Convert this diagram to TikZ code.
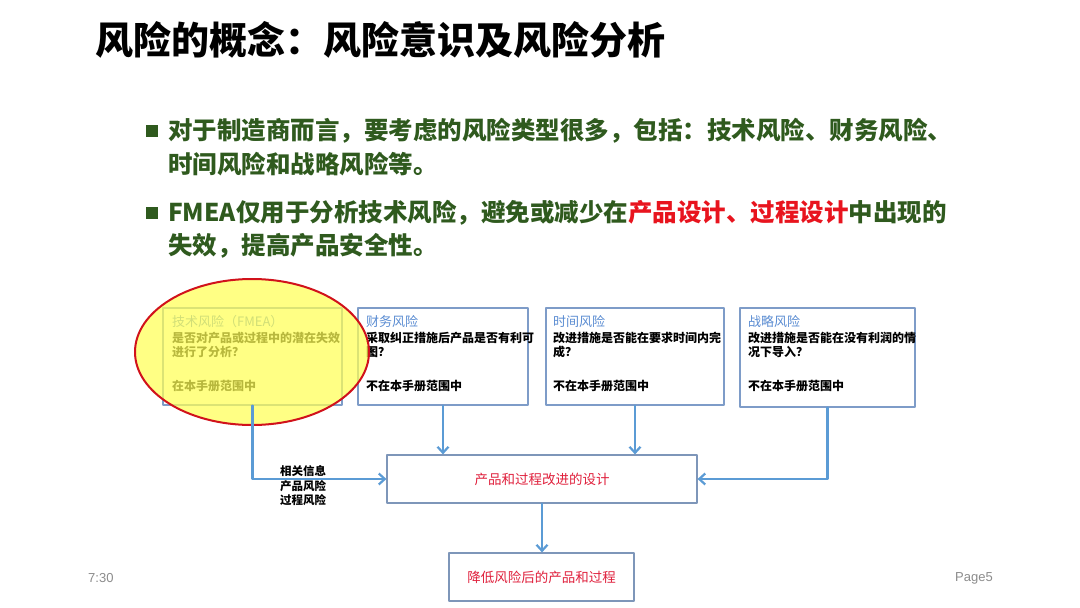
\documentclass[tikz,border=0pt]{standalone}
\usepackage{fontspec}
\setmainfont{Liberation Sans}
\newfontfamily\cjk{Noto Sans CJK SC}
\usetikzlibrary{arrows.meta,calc,positioning}
\definecolor{riskGreen}{HTML}{2F5A1E}
\definecolor{riskBlue}{HTML}{5B9BD5}
\definecolor{riskFrame}{HTML}{7E9CC8}
\definecolor{riskTitle}{HTML}{5A8CD2}
\definecolor{riskRed}{HTML}{E0203C}
\definecolor{riskHot}{HTML}{E8141E}
\definecolor{riskGray}{HTML}{8C8C8C}
\definecolor{riskYellow}{HTML}{FFFF55}

\begin{document}
\begin{tikzpicture}[x=1pt,y=-1pt,>=Latex,line cap=round,line join=round]
\path[fill=white] (0,0) rectangle (1080,608);
\tikzset{riskbox/.style={draw=riskFrame,line width=1.2pt},flowbox/.style={draw=riskFrame!80!gray,line width=1.2pt},flow/.style={draw=riskBlue,line width=2.2pt,-{Straight Barb[length=6pt,width=11pt]}},boxhead/.style={anchor=west,text=riskTitle,font=\cjk\fontsize{13}{15}\selectfont,inner sep=0pt},boxtext/.style={anchor=west,text=black,font=\cjk\bfseries\fontsize{12}{14}\selectfont,inner sep=0pt},bullet/.style={anchor=west,text=riskGreen,font=\cjk\bfseries\fontsize{24.5}{28}\selectfont,inner sep=0pt}}
\node[anchor=west,font=\cjk\bfseries\fontsize{38}{42}\selectfont,inner sep=0pt] (title) at (95,40) {风险的概念：风险意识及风险分析};
\path[fill=riskGreen] (146,125) rectangle (158,137);
\node[bullet] (line1) at (168,131) {对于制造商而言，要考虑的风险类型很多，包括：技术风险、财务风险、};
\node[bullet] (line2) at (168,164) {时间风险和战略风险等。};
\path[fill=riskGreen] (146,207) rectangle (158,219);
\node[bullet] (line3) at (168,213) {FMEA仅用于分析技术风险，避免或减少在\textcolor{riskHot}{产品设计、过程设计}中出现的};
\node[bullet] (line4) at (168,246) {失效，提高产品安全性。};
\node[riskbox,minimum width=179pt,minimum height=97pt] (tech) at (252.5,356.5) {};
\node[boxhead] at (172,322) {技术风险（FMEA）};
\node[boxtext] at (172,338) {是否对产品或过程中的潜在失效};
\node[boxtext] at (172,352) {进行了分析？};
\node[boxtext] at (172,386) {在本手册范围中};
\node[riskbox,minimum width=170pt,minimum height=97pt] (finance) at (443,356.5) {};
\node[boxhead] at (366,322) {财务风险};
\node[boxtext] at (366,338) {采取纠正措施后产品是否有利可};
\node[boxtext] at (366,352) {图？};
\node[boxtext] at (366,386) {不在本手册范围中};
\node[riskbox,minimum width=178pt,minimum height=97pt] (timing) at (635,356.5) {};
\node[boxhead] at (553,322) {时间风险};
\node[boxtext] at (553,338) {改进措施是否能在要求时间内完};
\node[boxtext] at (553,352) {成？};
\node[boxtext] at (553,386) {不在本手册范围中};
\node[riskbox,minimum width=175pt,minimum height=99pt] (strategy) at (827.5,357.5) {};
\node[boxhead] at (748,322) {战略风险};
\node[boxtext] at (748,338) {改进措施是否能在没有利润的情};
\node[boxtext] at (748,352) {况下导入？};
\node[boxtext] at (748,386) {不在本手册范围中};
\draw[draw=riskHot!90!black,line width=2pt,fill=riskYellow,fill opacity=0.72] (252,352) ellipse [x radius=117,y radius=73];
\node[flowbox,minimum width=310pt,minimum height=48pt,text=riskRed,font=\cjk\fontsize{13.5}{16}\selectfont] (design) at (542,479) {产品和过程改进的设计};
\node[flowbox,minimum width=185pt,minimum height=48pt,text=riskRed,font=\cjk\fontsize{13.5}{16}\selectfont] (result) at (541.5,577) {降低风险后的产品和过程};
\draw[flow] (tech.south) |- (design.west);
\draw[flow] (finance.south) -- (finance.south |- design.north);
\draw[flow] (timing.south) -- (timing.south |- design.north);
\draw[flow] (strategy.south) |- (design.east);
\draw[flow] (design.south) -- (design.south |- result.north);
\node[boxtext,font=\cjk\bfseries\fontsize{11.5}{13}\selectfont] (info1) at (280,471) {相关信息};
\node[boxtext,font=\cjk\bfseries\fontsize{11.5}{13}\selectfont] (info2) at (280,486) {产品风险};
\node[boxtext,font=\cjk\bfseries\fontsize{11.5}{13}\selectfont] (info3) at (280,500) {过程风险};
\node[anchor=west,text=riskGray,font=\fontsize{13}{15}\selectfont,inner sep=0pt] (clock) at (88,578) {7:30};
\node[anchor=west,text=riskGray,font=\fontsize{13}{15}\selectfont,inner sep=0pt] (page) at (955,578) {Page5};
\end{tikzpicture}
\end{document}
